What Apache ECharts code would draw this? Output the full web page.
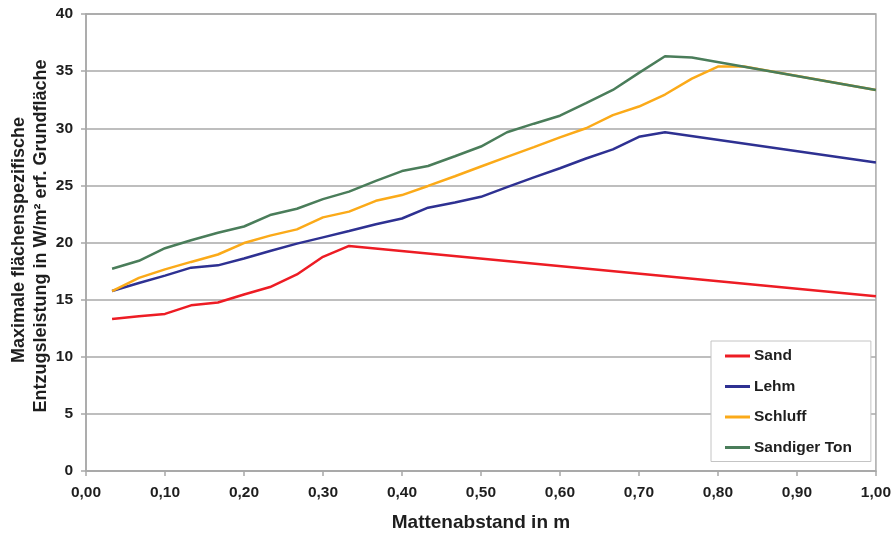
<!DOCTYPE html>
<html>
<head>
<meta charset="utf-8">
<script src="https://cdn.jsdelivr.net/npm/echarts@6/dist/echarts.min.js"></script>
<style>
html,body{margin:0;padding:0;background:#fff;}
#chart{width:894px;height:541px;}
</style>
</head>
<body>
<div id="chart"></div>
<script>
// Data (x = Mattenabstand in m, y = W/m²)
const sandX = [0.033,0.067,0.100,0.133,0.167,0.200,0.233,0.267,0.300,0.333,1.000];
const sandY = [13.3,13.55,13.75,14.5,14.75,15.45,16.1,17.2,18.75,19.7,15.3];

const lehmX = [0.033,0.067,0.100,0.133,0.167,0.200,0.233,0.267,0.300,0.333,0.367,0.400,0.433,0.467,0.500,0.533,0.567,0.600,0.633,0.667,0.700,0.733,1.000];
const lehmY = [15.75,16.45,17.1,17.8,18.0,18.6,19.25,19.9,20.45,21.0,21.6,22.1,23.05,23.5,24.0,24.85,25.7,26.5,27.35,28.15,29.25,29.65,27.0];

const schluffX = [0.033,0.067,0.100,0.133,0.167,0.200,0.233,0.267,0.300,0.333,0.367,0.400,0.433,0.467,0.500,0.533,0.567,0.600,0.633,0.667,0.700,0.733,0.767,0.800,0.833,1.000];
const schluffY = [15.75,16.9,17.65,18.3,18.95,19.95,20.6,21.15,22.2,22.7,23.65,24.15,24.95,25.8,26.65,27.5,28.35,29.2,30.0,31.15,31.9,32.95,34.35,35.4,35.4,33.35];

const tonX = [0.033,0.067,0.100,0.133,0.167,0.200,0.233,0.267,0.300,0.333,0.367,0.400,0.433,0.467,0.500,0.533,0.567,0.600,0.633,0.667,0.700,0.733,0.767,1.000];
const tonY = [17.7,18.4,19.5,20.2,20.85,21.4,22.4,22.95,23.8,24.45,25.4,26.25,26.7,27.55,28.4,29.65,30.4,31.1,32.2,33.35,34.85,36.3,36.2,33.35];

const seriesNames = ['Sand','Lehm','Schluff','Sandiger Ton'];
const seriesColors = ['#ED1C24','#2E3192','#FBAA19','#4A7D5A'];
const xAxisTitle = 'Mattenabstand in m';
const yAxisTitle1 = 'Maximale flächenspezifische';
const yAxisTitle2 = 'Entzugsleistung in W/m² erf. Grundfläche';

function pairs(xs, ys){ return xs.map((x,i)=>[x, ys[i]]); }

const FONT = '"Liberation Sans", Arial, sans-serif';
const TXT = '#1e1e1e';
const GRID = '#a8a8a8';

const allX = [sandX, lehmX, schluffX, tonX];
const allY = [sandY, lehmY, schluffY, tonY];

const chart = echarts.init(document.getElementById('chart'), null, {renderer:'canvas'});
chart.setOption({
  animation: false,
  backgroundColor: '#fff',
  grid: {left: 86, right: 16, top: 14, bottom: 70, show: true, borderColor: GRID, borderWidth: 1.5, backgroundColor: 'transparent'},
  xAxis: {
    type: 'value', min: 0, max: 1, interval: 0.1,
    name: xAxisTitle, nameLocation: 'middle', nameGap: 42,
    nameTextStyle: {fontFamily: FONT, fontWeight: 'bold', fontSize: 19, color: TXT},
    axisLine: {show: true, lineStyle: {color: GRID, width: 1.5}},
    axisTick: {show: true, length: 5, lineStyle: {color: GRID, width: 1.5}},
    splitLine: {show: false},
    axisLabel: {margin: 14, fontFamily: FONT, fontWeight: 'bold', fontSize: 15.5, color: TXT,
      formatter: v => v.toFixed(2).replace('.', ',')}
  },
  yAxis: {
    type: 'value', min: 0, max: 40, interval: 5,
    axisLine: {show: true, lineStyle: {color: GRID, width: 1.5}},
    axisTick: {show: true, length: 5, lineStyle: {color: GRID, width: 1.5}},
    splitLine: {show: true, lineStyle: {color: GRID, width: 1.5}},
    axisLabel: {margin: 13, fontFamily: FONT, fontWeight: 'bold', fontSize: 15.5, color: TXT}
  },
  legend: {
    orient: 'vertical', left: 711, top: 341,
    icon: 'rect', itemWidth: 25, itemHeight: 3, itemGap: 14.5,
    padding: [7, 19, 6, 14],
    backgroundColor: '#fff', borderColor: '#c4c4c4', borderWidth: 1,
    textStyle: {fontFamily: FONT, fontWeight: 'bold', fontSize: 15.5, color: TXT, lineHeight: 16, padding: [0,0,0,-1]},
    data: seriesNames
  },
  graphic: [
    {type: 'text', x: 19, y: 240, rotation: Math.PI/2,
     style: {text: yAxisTitle1, font: 'bold 18px ' + FONT, fill: TXT, textAlign: 'center', textVerticalAlign: 'middle'}},
    {type: 'text', x: 41, y: 236, rotation: Math.PI/2,
     style: {text: yAxisTitle2, font: 'bold 18px ' + FONT, fill: TXT, textAlign: 'center', textVerticalAlign: 'middle'}}
  ],
  series: seriesNames.map((n, i) => ({
    name: n, type: 'line', data: pairs(allX[i], allY[i]),
    showSymbol: false, symbol: 'none',
    color: seriesColors[i],
    lineStyle: {color: seriesColors[i], width: 2.5},
    z: 2 + i
  }))
});
</script>
</body>
</html>
